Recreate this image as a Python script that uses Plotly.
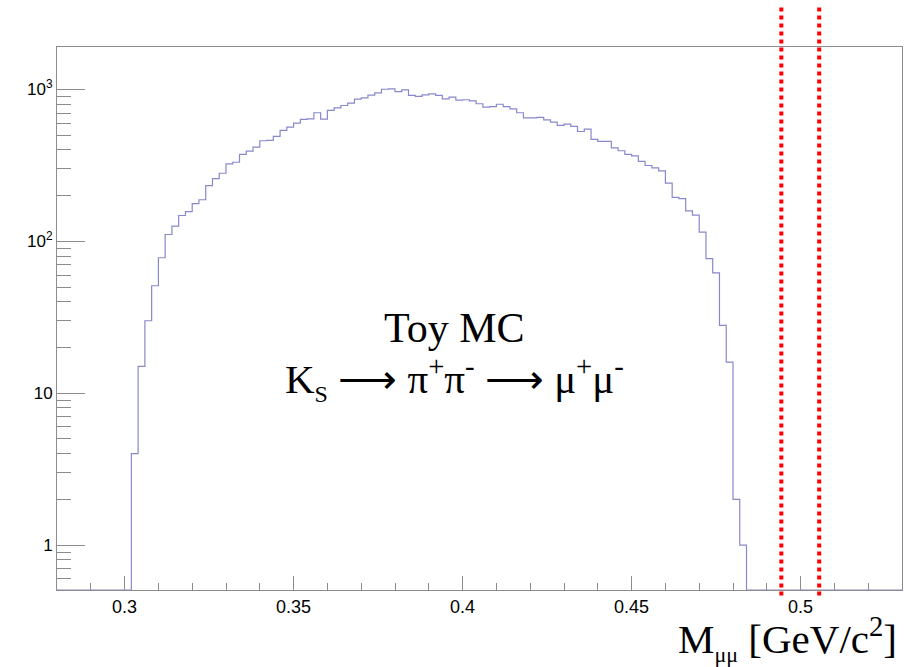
import plotly.graph_objects as go

# ---------------- data ----------------
bin_width = 0.002
x_min = 0.28
x_max = 0.53
first_filled_bin_low = 0.302
# counts per bin (0.002 GeV wide), starting at 0.302 GeV
counts = [4, 15, 30, 51, 78, 111, 126, 148, 157, 177,
          188, 233, 259, 281, 324, 332, 374, 393, 417, 460,
          462, 491, 538, 565, 600, 635, 641, 703, 638, 728,
          758, 785, 813, 864, 882, 918, 951, 1004, 1010, 970,
          995, 914, 900, 923, 937, 914, 869, 890, 851, 856,
          843, 806, 765, 772, 800, 772, 746, 703, 651, 651,
          656, 632, 609, 580, 591, 571, 529, 548, 469, 455,
          455, 413, 395, 374, 366, 336, 316, 305, 291, 242,
          195, 191, 159, 149, 115, 77, 62, 28, 16, 2,
          1]
window_lines = [0.4943, 0.5055]

x_tickvals = [0.3, 0.35, 0.4, 0.45, 0.5]
x_ticktext = ["0.3", "0.35", "0.4", "0.45", "0.5"]
y_tickvals = [1, 10, 100, 1000]
y_ticktext = ["1", "10", "10<sup>2</sup>", "10<sup>3</sup>"]
y_minor = [0.6, 0.7, 0.8, 0.9,
           2, 3, 4, 5, 6, 7, 8, 9,
           20, 30, 40, 50, 60, 70, 80, 90,
           200, 300, 400, 500, 600, 700, 800, 900]
y_log_range = [-0.296, 3.28]

# ---------------- build histogram ----------------
n_bins = int(round((x_max - x_min) / bin_width))
edges = [x_min + i * bin_width for i in range(n_bins + 1)]
values = [0] * n_bins
start = int(round((first_filled_bin_low - x_min) / bin_width))
for i, c in enumerate(counts):
    values[start + i] = c
floor = 10 ** y_log_range[0]
plot_vals = [v if v > 0 else floor for v in values]
step_y = plot_vals + [plot_vals[-1]]

fig = go.Figure()
fig.add_trace(go.Scatter(
    x=edges, y=step_y, mode="lines", line_shape="hv",
    line=dict(color="#8888cc", width=1.2),
    hoverinfo="skip", showlegend=False, cliponaxis=True))

for xv in window_lines:
    fig.add_shape(type="line", xref="x", yref="paper",
                  x0=xv, x1=xv, y0=-0.01, y1=1.077,
                  line=dict(color="#ff0000", width=4, dash="dot"))

serif = "Liberation Serif, Times New Roman, serif"
fig.add_annotation(text="Toy MC", xref="paper", yref="paper",
                   x=0.471, y=0.482, xanchor="center", yanchor="middle",
                   showarrow=False,
                   font=dict(family=serif, size=42, color="black"))
fig.add_annotation(text="K<sub><span style='font-size:24px'>S</span></sub> ⟶ "
                        "π<sup>+</sup>π<sup>-</sup> ⟶ μ<sup>+</sup>μ<sup>-</sup>",
                   xref="paper", yref="paper",
                   x=0.471, y=0.39, xanchor="center", yanchor="middle",
                   showarrow=False,
                   font=dict(family=serif, size=41, color="black"))
fig.add_annotation(text="M<sub><span style='font-size:22px'>μμ</span></sub> [GeV/c<sup>2</sup>]",
                   xref="paper", yref="paper",
                   x=0.996, y=-0.09, xanchor="right", yanchor="middle",
                   showarrow=False,
                   font=dict(family=serif, size=41, color="black"))

fig.update_layout(
    width=916, height=667,
    margin=dict(l=57, r=14, t=47, b=77, autoexpand=False),
    paper_bgcolor="white", plot_bgcolor="white",
    font=dict(family="Liberation Sans", size=17, color="black"),
    xaxis=dict(range=[x_min, x_max], showgrid=False, zeroline=False,
               automargin=False,
               showline=True, linecolor="#8c8c8c", linewidth=1, mirror=True,
               ticks="inside", ticklen=14, tickcolor="#8c8c8c", tickwidth=1,
               tickmode="array", tickvals=x_tickvals, ticktext=x_ticktext,
               minor=dict(ticks="inside", ticklen=7, tickcolor="#8c8c8c",
                          dtick=0.01, tick0=0.28, showgrid=False),
               tickfont=dict(size=18)),
    yaxis=dict(type="log", range=y_log_range, showgrid=False, zeroline=False,
               automargin=False,
               showline=True, linecolor="#8c8c8c", linewidth=1, mirror=True,
               ticks="inside", ticklen=28, tickcolor="#8c8c8c", tickwidth=1,
               tickmode="array", tickvals=y_tickvals, ticktext=y_ticktext,
               minor=dict(ticks="inside", ticklen=14, tickcolor="#8c8c8c",
                          tickvals=y_minor, showgrid=False),
               tickfont=dict(size=17)),
)

fig.write_html("out.html", config={"displayModeBar": False},
               post_script="document.body.style.margin='0';document.body.style.overflow='hidden';")
